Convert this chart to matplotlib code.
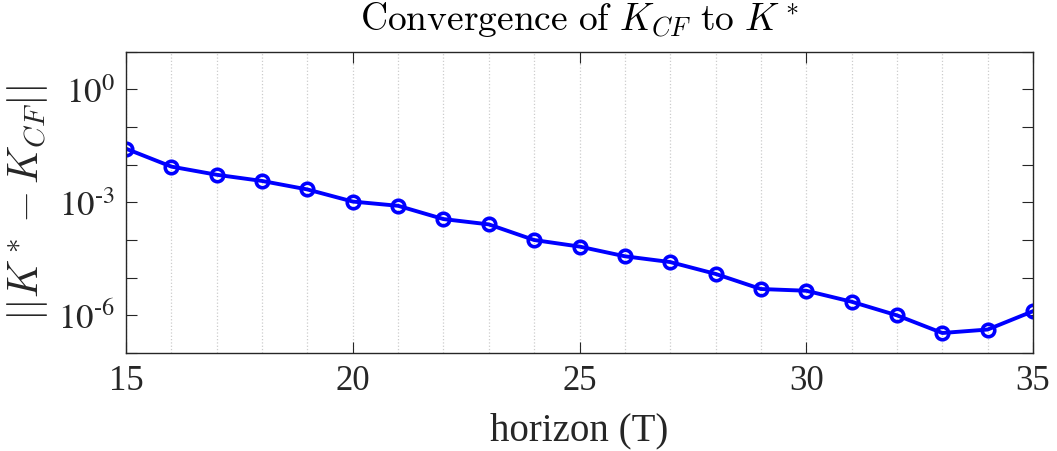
import numpy as np
import matplotlib.pyplot as plt
from matplotlib.ticker import LogLocator, FixedLocator, MultipleLocator, FuncFormatter

# horizon values and the error norm at each one
horizon = [15, 16, 17, 18, 19, 20, 21, 22, 23, 24, 25,
           26, 27, 28, 29, 30, 31, 32, 33, 34, 35]
err_norm = [2.66e-2, 8.9e-3, 5.4e-3, 3.7e-3, 2.2e-3, 1.05e-3, 8.1e-4, 3.6e-4,
            2.6e-4, 1.0e-4, 6.7e-5, 3.7e-5, 2.6e-5, 1.26e-5, 5.0e-6, 4.5e-6,
            2.3e-6, 1.0e-6, 3.4e-7, 4.2e-7, 1.29e-6]
xticks = [15, 20, 25, 30, 35]
ylabeled = [1e0, 1e-3, 1e-6]

plt.rcParams['font.family'] = 'serif'
plt.rcParams['font.serif'] = ['Liberation Serif']
plt.rcParams['mathtext.fontset'] = 'cm'

fig = plt.figure(figsize=(10.57, 4.52), dpi=100)
ax = fig.add_axes([0.1192, 0.2168, 0.8581, 0.6666])

ax.plot(horizon, err_norm, '-o', color=(0, 0, 1), linewidth=2.8,
        markersize=9, markerfacecolor='none', markeredgewidth=2.6)

ax.set_yscale('log')
ax.set_xlim(15, 35)
ax.set_ylim(1e-7, 1e1)

ax.xaxis.set_major_locator(FixedLocator(xticks))
ax.xaxis.set_minor_locator(MultipleLocator(1))
ax.yaxis.set_major_locator(LogLocator(base=10, numticks=20))
ax.yaxis.set_minor_locator(FixedLocator([]))


def fmt_y(v, pos):
    if any(abs(np.log10(v) - np.log10(t)) < 1e-6 for t in ylabeled):
        e = round(np.log10(v))
        if e < 0:
            return r'$10^{\text{-}%d}$' % (-e)
        return r'$10^{%d}$' % e
    return ''


ax.yaxis.set_major_formatter(FuncFormatter(fmt_y))

dark = (0.15, 0.15, 0.15)
for s in ax.spines.values():
    s.set_color(dark)
    s.set_linewidth(1.0)
ax.tick_params(which='major', direction='in', length=8, width=0.8,
               top=True, right=True, colors=dark, labelsize=25, pad=8)
ax.tick_params(which='minor', length=0, top=True, right=True)
for lbl in ax.get_yticklabels():
    lbl.set_math_fontfamily('stix')

ax.grid(True, axis='x', which='both', linestyle=':', color=(0.8, 0.8, 0.8),
        linewidth=0.9)

ax.set_xlabel('horizon (T)', fontsize=28, color=dark, labelpad=10)
ax.set_ylabel(r'$||K^* - K_{CF}||$', fontsize=30, color=dark, labelpad=6)
ax.set_title(r'$\mathrm{Convergence\ of\ }K_{CF}\mathrm{\ to\ }K^*$',
             fontsize=27, pad=16)

fig.savefig('out.png', dpi=100)
